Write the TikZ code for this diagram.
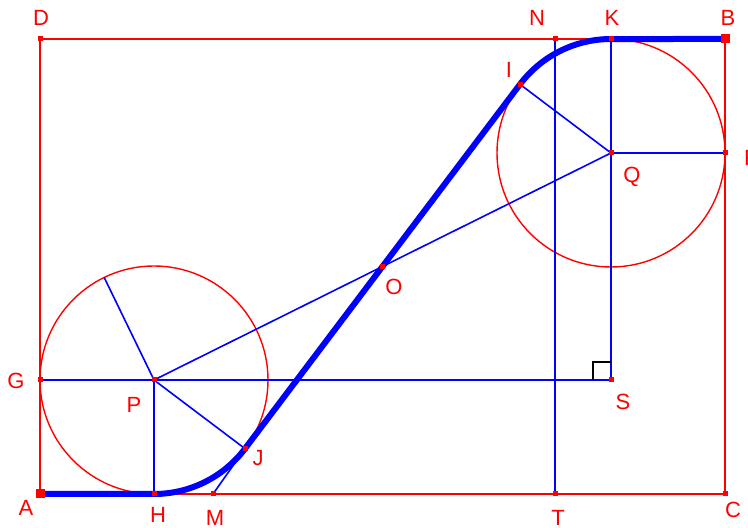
\documentclass[tikz,border=0pt]{standalone}
\usepackage{fontspec}
\setmainfont{Liberation Sans}
\begin{document}
\begin{tikzpicture}[x=1pt,y=1pt,
  redline/.style={draw=red, line width=1.4pt},
  blueline/.style={draw=blue, line width=1.6pt},
  thickpath/.style={draw=blue, line width=6pt, line join=round},
  dot/.style={fill=red, rectangle, minimum size=5pt, inner sep=0pt},
  bigdot/.style={fill=red, rectangle, minimum size=9pt, inner sep=0pt},
  lab/.style={text=red, font=\fontsize{22}{22}\selectfont, inner sep=0pt}]
\useasboundingbox (0,0) rectangle (748,528);
% points
\coordinate (A) at (40,34);
\coordinate (D) at (40,489);
\coordinate (B) at (725,489);
\coordinate (C) at (725,34);
\coordinate (P) at (154,148);
\coordinate (Q) at (611,375);
\coordinate (G) at (40,148);
\coordinate (H) at (154,34);
\coordinate (K) at (611,489);
\coordinate (R) at (725,375);
\coordinate (O) at (382.5,261.5);
\coordinate (J) at (245.0,79.34);
\coordinate (I) at (520.0,443.66);
\coordinate (N) at (555,489);
\coordinate (T) at (555,34);
\coordinate (M) at (213,34);
\coordinate (S) at (611,148);
\coordinate (U) at (104.2,250.5);
% red frame and circles
\draw[redline] (A) -- (C) -- (B) -- (D) -- cycle;
\draw[redline] (P) circle[radius=114pt];
\draw[redline] (Q) circle[radius=114pt];
% blue thin lines
\draw[blueline] (G) -- (S);
\draw[blueline] (K) -- (S);
\draw[blueline] (P) -- (H);
\draw[blueline] (P) -- (J);
\draw[blueline] (P) -- (Q);
\draw[blueline] (Q) -- (I);
\draw[blueline] (Q) -- (R);
\draw[blueline] (N) -- (T);
\draw[blueline] (M) -- (J);
\draw[blueline] (P) -- (U);
% right angle at S
\draw[black, line width=1.4pt] (593,148) -- (593,166) -- (611,166);
% thick path
\draw[thickpath] (A) -- (H) arc[start angle=-90, end angle=-37.04, radius=114pt]
  -- (I) arc[start angle=142.96, end angle=90, radius=114pt] -- (B);
% dots
\foreach \p in {D,N,K,G,P,Q,R,S,T,C,M,H,J,I,O}
  \node[dot] at (\p) {};
\node[bigdot] (dA) at (A) {};
\node[bigdot] (dB) at (B) {};
% labels
\node[lab] (lD) at (41,510) {D};
\node[lab] (lN) at (537,510) {N};
\node[lab] (lK) at (612,510) {K};
\node[lab] (lB) at (728,510) {B};
\node[lab] (lI) at (509,458) {I};
\node[lab] (lQ) at (632,351) {Q};
\node[lab] (lR) at (752,370) {R};
\node[lab] (lO) at (394,241) {O};
\node[lab] (lG) at (16,147) {G};
\node[lab] (lP) at (134,123) {P};
\node[lab] (lS) at (623,126) {S};
\node[lab] (lJ) at (258,70) {J};
\node[lab] (lA) at (26,20) {A};
\node[lab] (lH) at (158,13) {H};
\node[lab] (lM) at (215,10) {M};
\node[lab] (lT) at (558,10) {T};
\node[lab] (lC) at (733,18) {C};
\end{tikzpicture}
\end{document}
